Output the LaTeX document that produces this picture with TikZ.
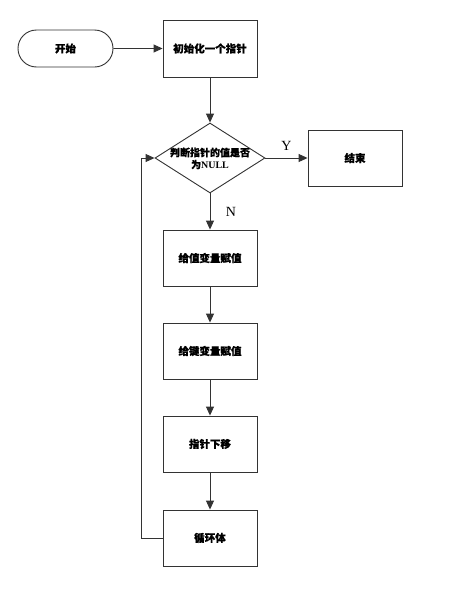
\documentclass[tikz,border=0pt]{standalone}
\usepackage{fontspec}
\newfontfamily\cjk{Noto Sans CJK SC}[FakeBold=0.6]
\setmainfont{Liberation Serif}
\usetikzlibrary{arrows.meta,shapes.geometric,shapes.misc}
\begin{document}
\begin{tikzpicture}[x=1pt,y=-1pt,
  line/.style={draw=black!80, line width=0.9pt},
  arr/.style={line, -{Triangle[length=9pt,width=8pt]}},
  txt/.style={font=\cjk\bfseries\fontsize{10.5}{12}\selectfont},
  proc/.style={line, rectangle, minimum width=94pt, minimum height=56pt, inner sep=0pt, txt},
  term/.style={line, rounded rectangle, minimum width=95pt, minimum height=37pt, inner sep=0pt, txt},
  dec/.style={line, diamond, aspect=1.57, minimum width=110pt, minimum height=70pt, inner sep=0pt},
  dtxt/.style={font=\cjk\bfseries\fontsize{10}{12}\selectfont, inner sep=0pt},
  lab/.style={font=\fontsize{14}{14}\selectfont}]
\useasboundingbox (0,0) rectangle (448,592);
\fill[white] (0,0) rectangle (448,592);
\node[term] (start) at (65.5,48.5) {开始};
\node[proc, minimum height=57pt] (init) at (210,48.5) {初始化一个指针};
\node[dec] (judge) at (210,158) {};
\node[dtxt] (jline1) at (210,152.5) {判断指针的值是否};
\node[dtxt] (jline2) at (210,164.5) {为{\rmfamily NULL}};
\node[proc] (end) at (355,158) {结束};
\node[proc] (b1) at (210,258) {给值变量赋值};
\node[proc] (b2) at (210,351) {给键变量赋值};
\node[proc] (b3) at (210,444) {指针下移};
\node[proc] (b4) at (210,538) {循环体};
\coordinate (lb) at (141,538);
\coordinate (lt) at (141,158);
\draw[arr] (start) -- (init);
\draw[arr] (init) -- (judge.north);
\draw[arr] (judge.east) -- (end) node[lab, midway, above=4pt] {Y};
\draw[arr] (judge.south) -- (b1) node[lab, midway, right=12pt] {N};
\draw[arr] (b1) -- (b2);
\draw[arr] (b2) -- (b3);
\draw[arr] (b3) -- (b4);
\draw[arr] (b4.west) -- (lb) -- (lt) -- (judge.west);
\end{tikzpicture}
\end{document}
